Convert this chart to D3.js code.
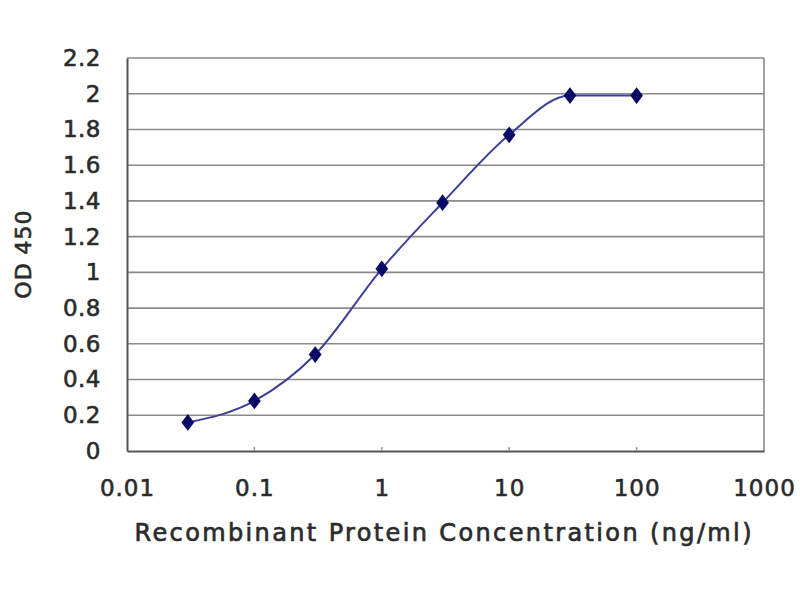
<!DOCTYPE html>
<html>
<head>
<meta charset="utf-8">
<script src="https://cdn.jsdelivr.net/npm/d3@7"></script>
<style>
body{margin:0;background:#fff;}
svg{display:block;}
text{font-family:"DejaVu Sans",Verdana,sans-serif;fill:#2a2a2a;}
</style>
</head>
<body>
<svg id="chart" width="800" height="600"></svg>
<script>
const concentrations = [0.03, 0.1, 0.3, 1, 3, 10, 30, 100];
const odValues = [0.16, 0.28, 0.54, 1.02, 1.39, 1.77, 1.99, 1.99];
const xTicks = [0.01, 0.1, 1, 10, 100, 1000];
const xTickLabels = ["0.01", "0.1", "1", "10", "100", "1000"];
const yTicks = [0, 0.2, 0.4, 0.6, 0.8, 1, 1.2, 1.4, 1.6, 1.8, 2, 2.2];
const yTickLabels = ["0", "0.2", "0.4", "0.6", "0.8", "1", "1.2", "1.4", "1.6", "1.8", "2", "2.2"];
const xTitle = "Recombinant Protein Concentration (ng/ml)";
const yTitle = "OD 450";

const svg = d3.select("#chart");
const L = 127, R = 764, T = 58, B = 451;
const x = d3.scaleLog().domain([0.01, 1000]).range([L, R]);
const y = d3.scaleLinear().domain([0, 2.2]).range([B, T]);
const FONT = '"DejaVu Sans",Verdana,sans-serif';
const TXT = "#2e2e2e";

// gridlines
svg.append("g").selectAll("line").data(yTicks.filter(d => d > 0)).join("line")
  .attr("x1", L).attr("x2", R)
  .attr("y1", d => y(d)).attr("y2", d => y(d))
  .attr("stroke", "#8a8a8a").attr("stroke-width", 1.6);

// right border
svg.append("line").attr("x1", R).attr("x2", R).attr("y1", T).attr("y2", B)
  .attr("stroke", "#8a8a8a").attr("stroke-width", 1.6);

// x axis
const xAxis = d3.axisBottom(x).tickValues(xTicks)
  .tickFormat((d, i) => xTickLabels[i]).tickSize(0).tickPadding(29);
const gx = svg.append("g").attr("transform", `translate(0,${B})`).call(xAxis);
gx.select(".domain").attr("stroke", "#555").attr("stroke-width", 2);
gx.selectAll("text").attr("font-size", 23).attr("letter-spacing", 1)
  .attr("fill", TXT).attr("stroke", TXT).attr("stroke-width", 0.6)
  .style("font-family", FONT);
// small inward tick marks
svg.append("g").selectAll("line").data(xTicks.slice(1, -1)).join("line")
  .attr("x1", d => x(d)).attr("x2", d => x(d))
  .attr("y1", B).attr("y2", B - 4)
  .attr("stroke", "#999").attr("stroke-width", 1.5);

// y axis
const yAxis = d3.axisLeft(y).tickValues(yTicks)
  .tickFormat((d, i) => yTickLabels[i]).tickSize(0).tickPadding(26);
const gy = svg.append("g").attr("transform", `translate(${L},0)`).call(yAxis);
gy.select(".domain").attr("stroke", "#555").attr("stroke-width", 2);
gy.selectAll("text").attr("font-size", 23).attr("letter-spacing", 0.5)
  .attr("fill", TXT).attr("stroke", TXT).attr("stroke-width", 0.6)
  .style("font-family", FONT);

// titles
svg.append("text").attr("x", 443).attr("y", 541).attr("text-anchor", "middle")
  .attr("font-size", 24).attr("textLength", 617).attr("lengthAdjust", "spacing")
  .attr("fill", TXT).attr("stroke", TXT).attr("stroke-width", 0.7).text(xTitle);
svg.append("text").attr("transform", "translate(31,254) rotate(-90)")
  .attr("text-anchor", "middle").attr("font-size", 22).attr("letter-spacing", 1)
  .attr("fill", TXT).attr("stroke", TXT).attr("stroke-width", 0.6).text(yTitle);

// line
const pts = concentrations.map((c, i) => [c, odValues[i]]);
const line = d3.line().x(d => x(d[0])).y(d => y(d[1])).curve(d3.curveMonotoneX);
svg.append("path").datum(pts).attr("d", line)
  .attr("fill", "none").attr("stroke", "#3f3f9a").attr("stroke-width", 2);

// markers
const sym = d3.symbol().type(d3.symbolDiamond).size(90);
svg.append("g").selectAll("path").data(pts).join("path")
  .attr("transform", d => `translate(${x(d[0])},${y(d[1])}) scale(1.25,0.95)`)
  .attr("d", sym).attr("fill", "#0a0a66");
</script>
</body>
</html>
